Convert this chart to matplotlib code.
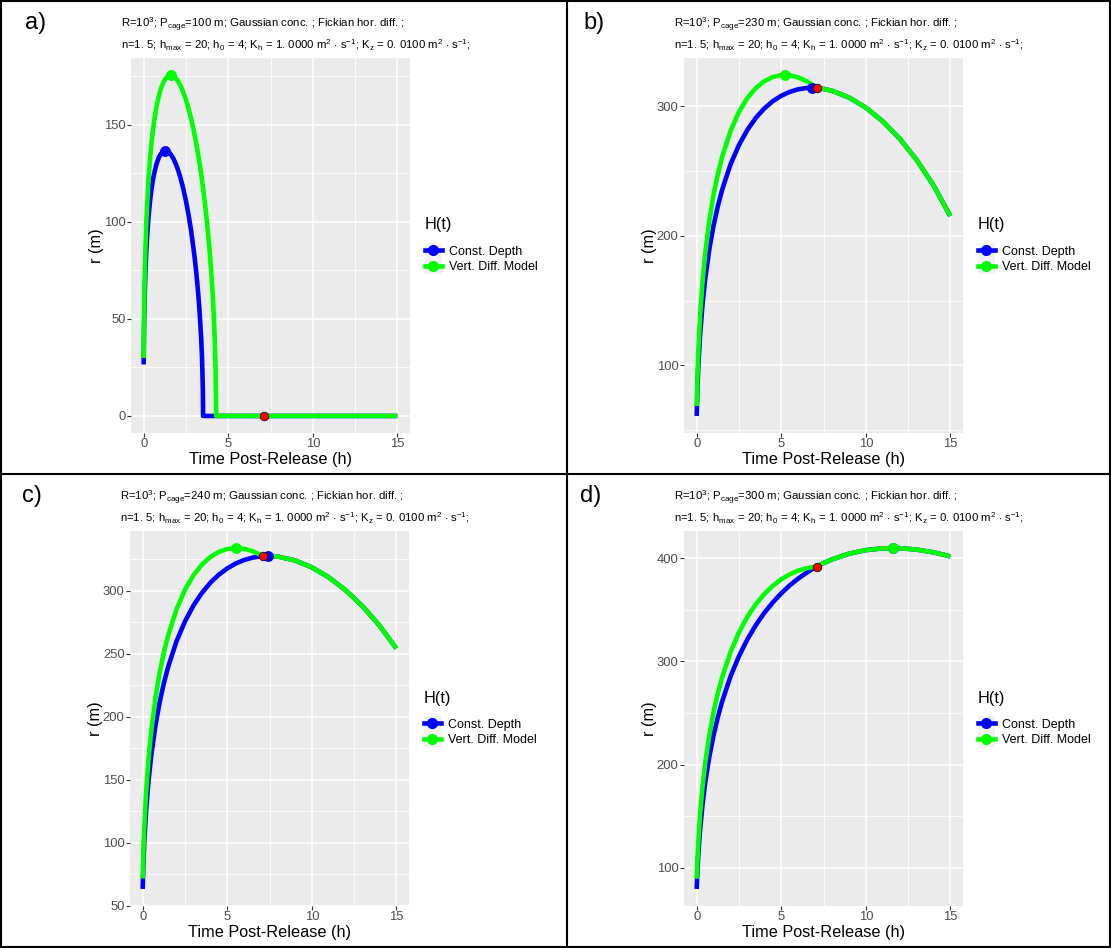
import matplotlib
matplotlib.use('Agg')
import matplotlib.pyplot as plt
from matplotlib.lines import Line2D
from matplotlib.patches import Rectangle
from matplotlib.legend_handler import HandlerLine2D

plt.rcParams['font.family'] = ['Liberation Sans', 'DejaVu Sans']
plt.rcParams['mathtext.fontset'] = 'custom'
plt.rcParams['mathtext.rm'] = 'Liberation Sans'
plt.rcParams['mathtext.it'] = 'Liberation Sans:italic'
plt.rcParams['mathtext.bf'] = 'Liberation Sans:bold'

# ---- data ---------------------------------------------------------------
# time grid (h)
t_a = [0, 0.02, 0.05, 0.1, 0.15, 0.2, 0.3, 0.4, 0.5, 0.6, 0.75, 0.9, 1.0,
       1.1, 1.25, 1.4, 1.5, 1.6, 1.75, 1.9, 2.0, 2.15, 2.3, 2.5, 2.65, 2.8,
       3.0, 3.1, 3.2, 3.3, 3.4, 3.45, 3.5, 3.513, 3.6, 3.7, 3.8, 3.9, 4.0,
       4.05, 4.1, 4.15, 4.2, 4.25, 4.28, 4.285, 15]
t_bcd = [0, 0.05, 0.1, 0.2, 0.35, 0.5, 0.75, 1, 1.25, 1.5, 2, 2.5, 3, 3.5, 4,
         4.5, 5, 5.5, 6, 6.5, 7, 7.11, 7.5, 8, 9, 10, 11, 12, 13, 14, 15]

# a) P_cage = 100 m
const_a = [26.5, 44.1, 58.6, 73.6, 84.0, 92.1, 103.9, 112.5, 119.0, 124.0,
           129.5, 133.1, 134.7, 135.8, 136.5, 136.3, 135.7, 134.7, 132.6,
           129.7, 127.4, 123.3, 118.5, 110.7, 103.7, 95.7, 82.6, 74.7, 65.6,
           54.5, 40.0, 29.9, 13.6, 0, 0, 0, 0, 0, 0, 0, 0, 0, 0, 0, 0, 0, 0]
vert_a = [29.8, 50.2, 67.3, 85.5, 98.4, 108.4, 123.6, 134.9, 143.7, 150.7,
          158.9, 164.9, 168.0, 170.4, 173.1, 174.7, 175.3, 175.45, 175.1,
          173.9, 172.8, 170.5, 167.6, 162.7, 158.3, 153.2, 145.2, 140.6, 135.7,
          130.4, 124.6, 121.4, 118.2, 117.3, 111.2, 103.4, 94.8, 85.0, 73.5,
          66.9, 59.4, 50.7, 40.1, 25.0, 6.1, 0, 0]

# b) P_cage = 230 m
const_b = [60.9, 84.0, 100.0, 123.1, 147.7, 166.2, 189.8, 208.0, 222.8, 235.2,
           255.0, 270.0, 281.7, 291.0, 298.2, 303.8, 308.0, 311.0, 313.0, 314.0,
           314.0, 314.0, 313.3, 311.9, 306.7, 298.9, 288.3, 275.0, 258.7, 239.0,
           215.2]
vert_b = [68.5, 93.8, 111.8, 137.8, 165.3, 185.9, 211.9, 231.7, 247.5, 260.6,
          280.8, 295.5, 306.3, 314.0, 319.2, 322.5, 323.9, 323.8, 322.2, 319.3,
          315.1, 314.0, 313.3, 311.9, 306.7, 298.9, 288.3, 275.0, 258.7, 239.0,
          215.2]

# c) P_cage = 240 m
const_c = [63.2, 86.1, 101.9, 125.1, 149.8, 168.6, 192.7, 211.3, 226.6, 239.4,
           260.0, 275.8, 288.4, 298.4, 306.5, 312.9, 317.9, 321.8, 324.6, 326.5,
           327.5, 327.6, 327.8, 327.3, 324.3, 318.8, 310.9, 300.6, 287.9, 272.6,
           254.3]
vert_c = [71.5, 96.1, 113.8, 139.7, 167.4, 188.1, 214.5, 234.7, 251.0, 264.4,
          285.4, 300.9, 312.4, 320.9, 327.0, 331.0, 333.4, 334.1, 333.5, 331.6,
          328.5, 327.6, 327.8, 327.3, 324.3, 318.8, 310.9, 300.6, 287.9, 272.6,
          254.3]

# d) P_cage = 300 m
const_d = [79.5, 98.9, 113.7, 136.5, 162.0, 181.9, 207.9, 228.6, 245.9, 260.8,
           285.3, 305.0, 321.3, 335.1, 346.9, 357.0, 365.8, 373.5, 380.1, 385.8,
           390.8, 391.8, 395.1, 398.7, 404.2, 407.7, 409.4, 409.6, 408.2, 405.6,
           401.6]
vert_d = [89.4, 110.0, 126.3, 151.4, 179.4, 200.9, 229.0, 251.0, 269.0, 284.3,
          308.9, 328.0, 343.2, 355.4, 365.2, 373.1, 379.4, 384.2, 387.8, 390.2,
          391.6, 391.8, 395.1, 398.7, 404.2, 407.7, 409.4, 409.6, 408.2, 405.6,
          401.6]

# maxima of each curve and the switch point (red)
const_max = [(1.29, 136.6), (6.81, 314.1), (7.41, 327.8), (11.59, 409.7)]
vert_max = [(1.6, 175.5), (5.25, 324.0), (5.5, 334.1), (11.59, 409.7)]
switch_pt = [(7.11, 0.0), (7.11, 314.0), (7.11, 327.6), (7.11, 391.8)]

p_cage = [100, 230, 240, 300]
panel_tags = ['a)', 'b)', 'c)', 'd)']
y_major = [[0, 50, 100, 150], [100, 200, 300],
           [50, 100, 150, 200, 250, 300], [100, 200, 300, 400]]
y_minor = [[25, 75, 125, 175], [50, 150, 250],
           [75, 125, 175, 225, 275, 325], [150, 250, 350]]
x_major = [0, 5, 10, 15]
x_minor = [2.5, 7.5, 12.5]
series_names = ['Const. Depth', 'Vert. Diff. Model']

BLUE, GREEN, RED = '#0000FF', '#00FF00', '#FF0000'
KEY_PT = 11.9  # legend key square (points)


class KeyWithBg(HandlerLine2D):
    # ggplot style key: grey95 square behind line + point
    def create_artists(self, legend, orig_handle, xdescent, ydescent,
                       width, height, fontsize, trans):
        arts = super().create_artists(legend, orig_handle, xdescent,
                                      ydescent, width, height, fontsize,
                                      trans)
        bg = Rectangle((-xdescent + (width - KEY_PT) / 2,
                        -ydescent + (height - KEY_PT) / 2),
                       KEY_PT, KEY_PT, facecolor='#F2F2F2',
                       edgecolor='none', transform=trans)
        return [bg] + list(arts)


# ---- figure ------------------------------------------------------------
W, H = 1111, 948
fig = plt.figure(figsize=(W / 100, H / 100), dpi=100)

# plot panel boxes in pixels (left, top, right, bottom)
boxes = [(131, 58, 410, 433), (684, 58, 963, 433),
         (130, 531, 409, 906), (684, 531, 963, 906)]
tag_pos = [(25, 29), (583, 29), (22, 502), (580, 502)]

times = [t_a, t_bcd, t_bcd, t_bcd]
consts = [const_a, const_b, const_c, const_d]
verts = [vert_a, vert_b, vert_c, vert_d]

for i in range(4):
    x0, y0, x1, y1 = boxes[i]
    pw, ph = x1 - x0, y1 - y0
    ax = fig.add_axes([x0 / W, 1 - y1 / H, pw / W, ph / H])
    ax.set_facecolor('#EBEBEB')
    for sp in ax.spines.values():
        sp.set_visible(False)

    t = times[i]
    ax.plot(t, consts[i], color=BLUE, lw=3.3, solid_capstyle='butt',
            solid_joinstyle='round', zorder=3)
    ax.plot(t, verts[i], color=GREEN, lw=3.3, solid_capstyle='butt',
            solid_joinstyle='round', zorder=4)
    ax.plot(*const_max[i], 'o', color=BLUE, ms=6.8, mec=BLUE, zorder=5)
    ax.plot(*vert_max[i], 'o', color=GREEN, ms=6.8, mec=GREEN, zorder=6)
    ax.plot(*switch_pt[i], 'o', color=RED, ms=6.2, mec='black', mew=0.5,
            zorder=7)

    # ggplot-like 5 % expansion
    ys = consts[i] + verts[i] + [const_max[i][1], vert_max[i][1]]
    lo, hi = min(ys), max(ys)
    pad = 0.05 * (hi - lo)
    ax.set_ylim(lo - pad, hi + pad)
    ax.set_xlim(-0.75, 15.75)

    ax.set_xticks(x_major)
    ax.set_xticks(x_minor, minor=True)
    ax.set_yticks(y_major[i])
    ax.set_yticks(y_minor[i], minor=True)
    ax.grid(which='major', color='white', lw=1.15)
    ax.grid(which='minor', color='white', lw=0.6)
    ax.set_axisbelow(True)
    ax.tick_params(which='major', length=2.7, width=0.8, color='#333333',
                   labelcolor='#4D4D4D', labelsize=9.4, pad=1.2)
    ax.tick_params(which='minor', length=0)

    ax.set_xlabel('Time Post-Release (h)', fontsize=11.7, labelpad=1.5)
    ax.set_ylabel('r (m)', fontsize=11.7, labelpad=0)

    # legend: title and keys placed separately (ggplot spacing)
    lx = 1 + 15 / pw
    ax.text(lx, 0.5 + 20.5 / ph, 'H(t)', transform=ax.transAxes,
            ha='left', va='center', fontsize=11.7)
    handles = [Line2D([], [], color=BLUE, lw=3.3, marker='o', ms=7),
               Line2D([], [], color=GREEN, lw=3.3, marker='o', ms=7)]
    ax.legend(handles, series_names, loc='center left',
              bbox_to_anchor=(lx, 0.5 - 14 / ph), frameon=False,
              fontsize=9, handlelength=KEY_PT / 9, handleheight=0.9,
              handletextpad=0.62, labelspacing=0.205, borderpad=0,
              borderaxespad=0, numpoints=1,
              handler_map={Line2D: KeyWithBg()})

    # titles
    tx = (x0 - 10) / W
    fig.text(tx, 1 - (y0 - 30) / H,
             r'R=10$^3$; P$_{\mathrm{cage}}$=%d m; Gaussian conc. ; '
             r'Fickian hor. diff. ;' % p_cage[i],
             fontsize=8.2, va='baseline', ha='left')
    fig.text(tx, 1 - (y0 - 9) / H,
             r'n=1. 5; h$_{\mathrm{max}}$ = 20; h$_0$ = 4; '
             r'K$_{\mathrm{h}}$ = 1. 0000 m$^2$ $\cdot$ s$^{-1}$; '
             r'K$_{\mathrm{z}}$ = 0. 0100 m$^2$ $\cdot$ s$^{-1}$;',
             fontsize=8.2, va='baseline', ha='left')

    fig.text(tag_pos[i][0] / W, 1 - tag_pos[i][1] / H, panel_tags[i],
             fontsize=17, va='baseline', ha='left')

# black frame and dividers
fig.add_artist(Rectangle((1 / W, 1 / H), (W - 2) / W, (H - 2) / H,
                         transform=fig.transFigure, fill=False,
                         edgecolor='black', lw=1.5))
fig.add_artist(Line2D([567 / W, 567 / W], [0, 1], transform=fig.transFigure,
                      color='black', lw=1.5))
fig.add_artist(Line2D([0, 1], [1 - 474 / H, 1 - 474 / H],
                      transform=fig.transFigure, color='black', lw=1.5))

fig.savefig('out.png', dpi=100)
